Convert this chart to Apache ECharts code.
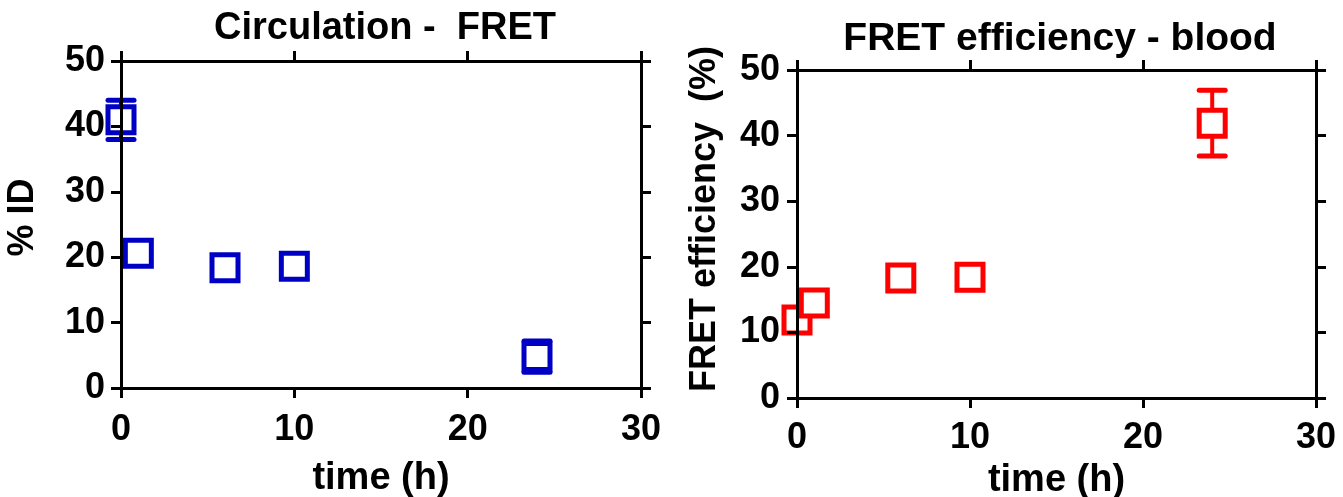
<!DOCTYPE html>
<html><head><meta charset="utf-8">
<script src="https://cdn.jsdelivr.net/npm/echarts@6/dist/echarts.min.js"></script>
<style>html,body{margin:0;padding:0;background:#fff}#c{width:1343px;height:497px}</style>
</head><body><div id="c"></div>
<script>
// ---- data ----
const timeCirc = [0, 1, 6, 10, 24];
const idMean   = [41.0, 20.6, 18.4, 18.6, 4.8];
const idErr    = [3.0, 0, 0, 0, 2.4];
const timeFret = [0, 1, 6, 10, 24];
const fretMean = [11.9, 14.5, 18.3, 18.4, 41.9];
const fretErr  = [0, 0, 0, 0, 5.0];
const xTicks = [0, 10, 20, 30];
const yTicks = [0, 10, 20, 30, 40, 50];
const titles = ['Circulation -  FRET', 'FRET efficiency - blood'];
const yNames = ['% ID', 'FRET efficiency  (%)'];
const xName = 'time (h)';

const FONT = "'Liberation Sans', Arial, sans-serif";
const BLUE = '#0000c4', RED = '#ff0000';

const chart = echarts.init(document.getElementById('c'));

function mainX(gi, gap, margin) {
  return {
    type: 'value', gridIndex: gi, position: 'bottom',
    min: xTicks[0], max: xTicks[xTicks.length - 1], interval: xTicks[1] - xTicks[0],
    name: xName, nameLocation: 'middle', nameGap: gap,
    nameTextStyle: { fontFamily: FONT, fontWeight: 'bold', fontSize: 38, color: '#000' },
    axisLine: { onZero: false, lineStyle: { color: '#000', width: 3 } },
    axisTick: { show: true, length: 10, lineStyle: { color: '#000', width: 3 } },
    axisLabel: { margin: margin, fontFamily: FONT, fontWeight: 'bold', fontSize: 36, color: '#000' },
    splitLine: { show: false }, z: 5
  };
}
function topX(gi) {
  return {
    type: 'value', gridIndex: gi, position: 'top',
    min: xTicks[0], max: xTicks[xTicks.length - 1], interval: xTicks[1] - xTicks[0],
    axisLine: { onZero: false, lineStyle: { color: '#000', width: 3 } },
    axisTick: { show: true, length: 10, lineStyle: { color: '#000', width: 3 } },
    axisLabel: { show: false }, splitLine: { show: false }, z: 5
  };
}
function mainY(gi, name, gap, margin, shift) {
  return {
    type: 'value', gridIndex: gi, position: 'left',
    min: yTicks[0], max: yTicks[yTicks.length - 1], interval: yTicks[1] - yTicks[0],
    name: name, nameLocation: 'middle', nameGap: gap,
    nameTextStyle: { fontFamily: FONT, fontWeight: 'bold', fontSize: 36, color: '#000', padding: [0, 0, 0, shift] },
    axisLine: { show: true, onZero: false, lineStyle: { color: '#000', width: 3 } },
    axisTick: { show: true, length: 10, lineStyle: { color: '#000', width: 3 } },
    axisLabel: { margin: margin, fontFamily: FONT, fontWeight: 'bold', fontSize: 36, color: '#000' },
    splitLine: { show: false }, z: 5
  };
}
function rightY(gi) {
  return {
    type: 'value', gridIndex: gi, position: 'right',
    min: yTicks[0], max: yTicks[yTicks.length - 1], interval: yTicks[1] - yTicks[0],
    axisLine: { show: true, onZero: false, lineStyle: { color: '#000', width: 3 } },
    axisTick: { show: true, length: 10, lineStyle: { color: '#000', width: 3 } },
    axisLabel: { show: false }, splitLine: { show: false }, z: 5
  };
}

function errSeries(xi, yi, xs, means, errs, color) {
  const d = [];
  xs.forEach((x, i) => { if (errs[i] > 0) d.push([x, means[i] - errs[i], means[i] + errs[i]]); });
  return {
    type: 'custom', xAxisIndex: xi, yAxisIndex: yi, z: 2, data: d,
    renderItem: function (params, api) {
      const lo = api.coord([api.value(0), api.value(1)]);
      const hi = api.coord([api.value(0), api.value(2)]);
      const hw = 13;
      return {
        type: 'group', children: [
          { type: 'line', shape: { x1: lo[0], y1: lo[1], x2: hi[0], y2: hi[1] }, style: { stroke: color, lineWidth: 4 } },
          { type: 'line', shape: { x1: lo[0] - hw, y1: lo[1], x2: lo[0] + hw, y2: lo[1] }, style: { stroke: color, lineWidth: 5, lineCap: 'round' } },
          { type: 'line', shape: { x1: hi[0] - hw, y1: hi[1], x2: hi[0] + hw, y2: hi[1] }, style: { stroke: color, lineWidth: 5, lineCap: 'round' } }
        ]
      };
    }
  };
}
function ptSeries(xi, yi, xs, means, color) {
  return {
    type: 'scatter', xAxisIndex: xi, yAxisIndex: yi, z: 3, clip: false,
    symbol: 'rect', symbolSize: 26,
    itemStyle: { color: '#fff', borderColor: color, borderWidth: 5, opacity: 1 },
    data: xs.map((x, i) => [x, means[i]])
  };
}

chart.setOption({
  animation: false,
  backgroundColor: '#fff',
  title: [
    { text: titles[0], left: 380, top: 5, textAlign: 'center',
      textStyle: { fontFamily: FONT, fontWeight: 'bold', fontSize: 38, color: '#000' } },
    { text: titles[1], left: 1055, top: 15, textAlign: 'center',
      textStyle: { fontFamily: FONT, fontWeight: 'bold', fontSize: 39, color: '#000' } }
  ],
  grid: [
    { left: 121, top: 61, width: 520, height: 327, containLabel: false, outerBoundsMode: 'none' },
    { left: 797, top: 70, width: 519, height: 328, containLabel: false, outerBoundsMode: 'none' }
  ],
  xAxis: [mainX(0, 72, 24), topX(0), mainX(1, 64, 22), topX(1)],
  yAxis: [mainY(0, yNames[0], 80, 16, 14), rightY(0), mainY(1, yNames[1], 74, 17, 30), rightY(1)],
  series: [
    errSeries(0, 0, timeCirc, idMean, idErr, BLUE),
    ptSeries(0, 0, timeCirc, idMean, BLUE),
    errSeries(2, 2, timeFret, fretMean, fretErr, RED),
    ptSeries(2, 2, timeFret, fretMean, RED)
  ]
});
</script></body></html>
